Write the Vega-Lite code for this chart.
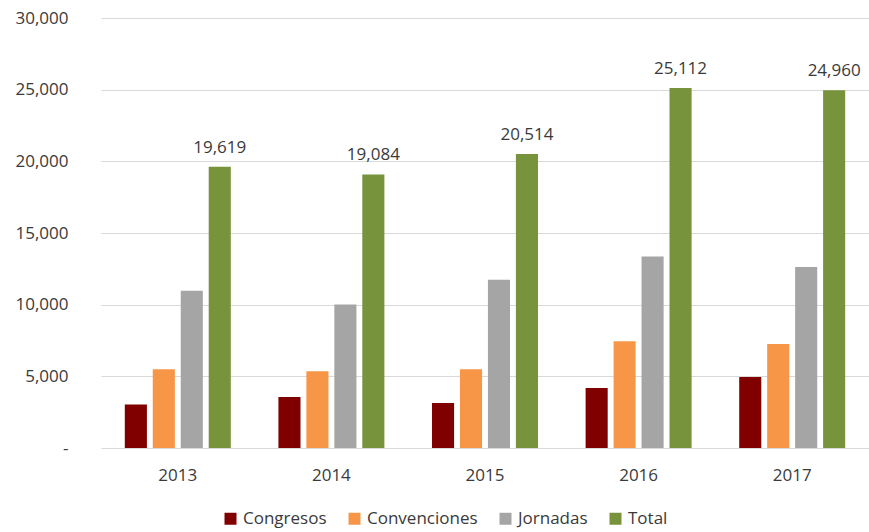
{
  "$schema": "https://vega.github.io/schema/vega-lite/v6.json",
  "width": 768,
  "height": 430,
  "autosize": {"type": "none"},
  "padding": {"left": 101, "top": 18, "right": 0, "bottom": 84},
  "background": "white",
  "config": {
    "view": {"stroke": null},
    "font": "Open Sans"
  },
  "data": {
    "values": [
      {"year": "2013", "series": "Congresos", "value": 3027},
      {"year": "2013", "series": "Convenciones", "value": 5488},
      {"year": "2013", "series": "Jornadas", "value": 10977},
      {"year": "2013", "series": "Total", "value": 19619},
      {"year": "2014", "series": "Congresos", "value": 3556},
      {"year": "2014", "series": "Convenciones", "value": 5349},
      {"year": "2014", "series": "Jornadas", "value": 10020},
      {"year": "2014", "series": "Total", "value": 19084},
      {"year": "2015", "series": "Congresos", "value": 3138},
      {"year": "2015", "series": "Convenciones", "value": 5488},
      {"year": "2015", "series": "Jornadas", "value": 11743},
      {"year": "2015", "series": "Total", "value": 20514},
      {"year": "2016", "series": "Congresos", "value": 4184},
      {"year": "2016", "series": "Convenciones", "value": 7441},
      {"year": "2016", "series": "Jornadas", "value": 13368},
      {"year": "2016", "series": "Total", "value": 25112},
      {"year": "2017", "series": "Congresos", "value": 4951},
      {"year": "2017", "series": "Convenciones", "value": 7252},
      {"year": "2017", "series": "Jornadas", "value": 12622},
      {"year": "2017", "series": "Total", "value": 24960}
    ]
  },
  "encoding": {
    "x": {
      "field": "year",
      "type": "nominal",
      "scale": {"paddingInner": 0.31, "paddingOuter": 0.155},
      "axis": {
        "title": null,
        "labelAngle": 0,
        "domain": false,
        "ticks": false,
        "tickSize": 0,
        "labelPadding": 19,
        "labelFontSize": 17,
        "labelColor": "#3a3a3a",
        "labelFont": "Open Sans"
      }
    },
    "xOffset": {
      "field": "series",
      "type": "nominal",
      "scale": {"domain": ["Congresos", "Convenciones", "Jornadas", "Total"], "paddingInner": 0.21, "paddingOuter": 0}
    },
    "y": {
      "field": "value",
      "type": "quantitative",
      "scale": {"domain": [0, 30000], "nice": false},
      "axis": {
        "title": null,
        "values": [0, 5000, 10000, 15000, 20000, 25000, 30000],
        "labelExpr": "datum.value == 0 ? '-\u00a0\u00a0\u00a0\u00a0' : format(datum.value, ',')",
        "domain": false,
        "ticks": false,
        "tickSize": 0,
        "labelPadding": 33,
        "labelFontSize": 17,
        "labelColor": "#3a3a3a",
        "labelFont": "Open Sans",
        "gridColor": "#d9d9d9",
        "gridWidth": 1
      }
    }
  },
  "layer": [
    {
      "mark": {"type": "bar"},
      "encoding": {
        "color": {
          "field": "series",
          "type": "nominal",
          "scale": {
            "domain": ["Congresos", "Convenciones", "Jornadas", "Total"],
            "range": ["#800000", "#f79646", "#a5a5a5", "#77933c"]
          },
          "legend": {
            "title": null,
            "orient": "none",
            "direction": "horizontal",
            "legendX": 121,
            "legendY": 492,
            "symbolType": "square",
            "symbolSize": 144,
            "symbolStrokeWidth": 0,
            "symbolOpacity": 1,
            "labelFontSize": 17,
            "labelFont": "Open Sans",
            "labelColor": "#3a3a3a",
            "labelOffset": 4,
            "columnPadding": 19
          }
        }
      }
    },
    {
      "transform": [{"filter": "datum.series == 'Total'"}],
      "mark": {"type": "text", "baseline": "bottom", "dy": -10, "fontSize": 17, "font": "Open Sans", "color": "#3a3a3a"},
      "encoding": {
        "text": {"field": "value", "type": "quantitative", "format": ","}
      }
    }
  ]
}
